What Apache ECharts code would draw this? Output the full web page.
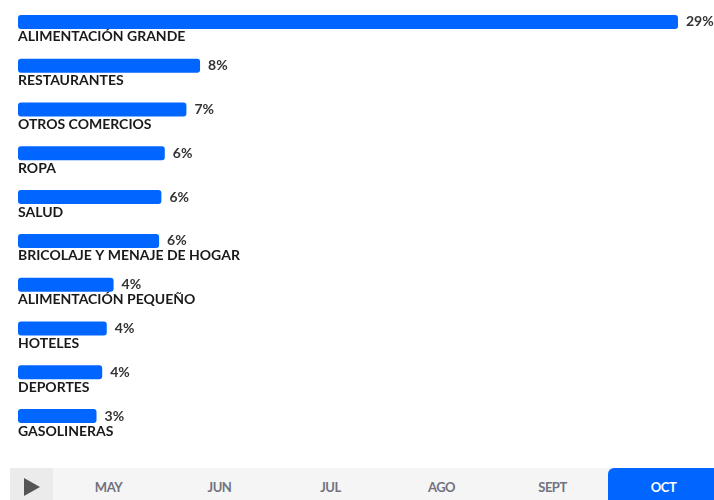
<!DOCTYPE html>
<html>
<head>
<meta charset="utf-8">
<script src="https://cdn.jsdelivr.net/npm/echarts@6/dist/echarts.min.js"></script>
<style>
    html, body { margin: 0; padding: 0; background: #fff; overflow: hidden; }
    #main { position: absolute; left: 0; top: 0; width: 714px; height: 468px; }
    .timeline { position: absolute; left: 10px; top: 468px; width: 720px; height: 36px; background: #f5f5f5;
        font-family: Lato, sans-serif; font-size: 13px; font-weight: bold; color: #72727e; }
    .timeline .play { position: absolute; left: 0; top: 0; width: 43px; height: 36px; background: #ebebeb; }
    .timeline .play:after { content: ''; position: absolute; left: 14px; top: 10px; border-left: 16px solid #555;
        border-top: 9px solid transparent; border-bottom: 9px solid transparent; }
    .timeline .tab { position: absolute; top: 0; width: 111px; height: 36px; line-height: 38px; text-align: center; letter-spacing: -0.5px; }
    .timeline .tab.on { background: #0066ff; color: #fff; border-top-left-radius: 6px; }
</style>
</head>
<body>
<div id="main"></div>
<div class="timeline" id="timeline"><div class="play"></div></div>
<script>
var categories = ["ALIMENTACIÓN GRANDE", "RESTAURANTES", "OTROS COMERCIOS", "ROPA", "SALUD",
    "BRICOLAJE Y MENAJE DE HOGAR", "ALIMENTACIÓN PEQUEÑO", "HOTELES", "DEPORTES", "GASOLINERAS"];
var shares = [29.0, 8.0, 7.4, 6.45, 6.3, 6.2, 4.2, 3.9, 3.7, 3.45];
var months = ["MAY", "JUN", "JUL", "AGO", "SEPT", "OCT"];
var currentMonth = "OCT";

var tl = document.getElementById('timeline');
months.forEach(function(m, k) {
    var d = document.createElement('div');
    d.className = 'tab' + (m === currentMonth ? ' on' : '');
    d.style.left = (43 + k * 111) + 'px';
    d.textContent = m;
    tl.appendChild(d);
});

var chart = echarts.init(document.getElementById('main'));
chart.setOption({
    animation: false,
    grid: { left: 18, right: 36, top: -2, height: 440 },
    xAxis: {
        type: 'value', min: 0, max: 29.0, show: false
    },
    yAxis: {
        type: 'category',
        inverse: true,
        data: categories,
        axisLine: { show: false },
        axisTick: { show: false },
        splitLine: { show: false },
        axisLabel: {
            inside: true,
            margin: 0,
            verticalAlign: 'top',
            padding: [8, 0, 0, 0],
            color: '#1a1a1a',
            fontFamily: 'Lato',
            fontWeight: 'bold',
            fontSize: 14
        }
    },
    series: [{
        type: 'bar',
        data: shares,
        barWidth: 14,
        itemStyle: { color: '#0066ff', borderRadius: 3 },
        label: {
            show: true,
            position: 'right',
            distance: 8,
            color: '#333',
            fontFamily: 'Lato',
            fontWeight: 'bold',
            fontSize: 14,
            formatter: function(p) { return Math.round(p.value) + '%'; }
        }
    }]
});
</script>
</body>
</html>
